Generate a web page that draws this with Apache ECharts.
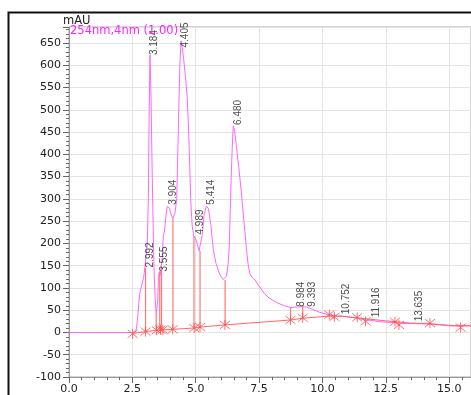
<!DOCTYPE html>
<html>
<head>
<meta charset="utf-8">
<script src="https://cdn.jsdelivr.net/npm/echarts@6.0.0/dist/echarts.min.js"></script>
<style>
html,body{margin:0;padding:0;background:#fff;}
#chart{width:471px;height:395px;}
</style>
</head>
<body>
<div id="chart"></div>
<script>
// Chromatogram trace (retention time, mAU)
const times = [0,2.5,2.6,2.66,2.72,2.78,2.84,2.9,2.95,2.99,3.05,3.09,3.13,3.16,3.195,3.23,3.27,3.3,3.35,3.4,3.44,3.47,3.5,3.53,3.56,3.59,3.63,3.68,3.72,3.77,3.82,3.87,3.91,3.96,4.03,4.1,4.18,4.25,4.3,4.34,4.38,4.42,4.47,4.54,4.6,4.67,4.74,4.8,4.86,4.92,4.99,5.06,5.13,5.19,5.26,5.33,5.42,5.5,5.6,5.69,5.8,5.95,6.08,6.15,6.21,6.27,6.32,6.36,6.4,6.44,6.48,6.53,6.6,6.7,6.8,6.9,7.0,7.07,7.14,7.25,7.34,7.45,7.53,7.7,7.9,8.2,8.5,8.74,8.98,9.2,9.39,9.6,9.9,10.27,10.6,10.75,11.0,11.37,11.7,11.92,12.3,12.86,13.3,13.64,14.2,14.6,15.0,15.45,15.86];
const signal = [0,0,1,8,40,85,99,102,125,145,148,200,300,480,623,550,400,300,150,75,42,40,70,125,137,128,142,170,215,228,258,283,287,280,264,256,268,300,420,523,610,655,640,605,570,523,420,300,240,217,212,198,183,184,220,265,284,278,240,187,155,130,119,118,126,150,190,270,350,415,464,455,420,370,315,250,188,152,131,122,118,108,102,88,77,67,60,56,57,58,57,52,45,39,37,37,35,32,28,27,24,22,20,20,19,17,15,14,15];

// Integration baseline
const baseTimes = [2.51,3.02,3.46,4.09,4.94,5.17,6.15,8.74,9.22,10.3,10.8,11.5,12.5,13.5,14.24,15.0,15.86];
const baseValues = [-2,2,5,7,10,12,17,28,32,37,36,32,26,21,20,16,15];

// Peak start/end markers
const markerTimes = [2.51,3.02,3.46,3.61,3.7,4.09,4.94,5.17,6.15,8.74,9.22,10.27,10.47,11.37,11.7,12.86,13.02,14.24,15.45];
const markerValues = [-3,2,5,6,6,7,10,12,17,28,33,40,35,34,25,24,17,21,11];

// Drop lines (time, baseline, signal)
const dropTimes = [3.02,3.44,3.58,3.65,4.1,4.93,5.17,6.16,8.74,9.22];
const dropBases = [2,5,6,6,7,10,12,17,28,32];
const dropTops = [145,42,133,145,256,217,183,118,56,58];

// Peak retention time labels
const peakTimes = [2.992,3.184,3.555,3.904,4.405,4.989,5.414,6.480,8.984,9.393,10.752,11.916,13.635];
const peakHeights = [146,623,137,287,640,220,287,466,58,58,41,34,25];

const xTicks = {min:0, max:15.86, interval:2.5};
const yTicks = {min:-100, max:686, interval:50};

const chart = echarts.init(document.getElementById('chart'), null, {renderer:'canvas'});
const axisFont = {fontFamily:'DejaVu Sans', fontSize:11, color:'#222'};
const dropColor = '#ff7777';

chart.setOption({
  animation:false,
  backgroundColor:'#fff',
  grid:{left:69, top:27, right:0, bottom:16, show:true, borderColor:'#aaa', borderWidth:1},
  graphic:[
    {type:'rect', left:6, top:10, shape:{width:520, height:420}, style:{fill:'none', stroke:'#111', lineWidth:2}, z:100},
    {type:'text', left:63, top:15, style:{text:'mAU', font:'11.5px "DejaVu Sans"', fill:'#222'}, z:100},
    {type:'text', left:70, top:25, style:{text:'254nm,4nm (1.00)', font:'11.5px "DejaVu Sans"', fill:'#ff22ff'}, z:100}
  ],
  xAxis:{
    type:'value', min:xTicks.min, max:xTicks.max, interval:xTicks.interval,
    axisLine:{show:true, onZero:false, lineStyle:{color:'#999'}},
    axisTick:{show:true, length:6, lineStyle:{color:'#666'}},
    minorTick:{show:true, splitNumber:5, length:3, lineStyle:{color:'#666'}},
    splitLine:{show:true, lineStyle:{color:'#e4e4e4'}},
    axisLabel:Object.assign({margin:7, showMaxLabel:false, formatter:v=>v.toFixed(1)}, axisFont)
  },
  yAxis:{
    type:'value', min:yTicks.min, max:yTicks.max, interval:yTicks.interval,
    axisLine:{show:true, onZero:false, lineStyle:{color:'#999'}},
    axisTick:{show:true, length:6, lineStyle:{color:'#666'}},
    minorTick:{show:true, splitNumber:5, length:3, lineStyle:{color:'#666'}},
    splitLine:{show:true, lineStyle:{color:'#e4e4e4'}},
    axisLabel:Object.assign({margin:8, showMaxLabel:false}, axisFont)
  },
  series:[
    {
      type:'line', name:'254nm,4nm (1.00)', showSymbol:false, symbol:'none',
      data:times.map((t,i)=>[t, signal[i]]),
      lineStyle:{color:'#ff66ff', width:1}, z:3
    },
    {
      type:'line', showSymbol:false, symbol:'none',
      data:baseTimes.map((t,i)=>[t, baseValues[i]]),
      lineStyle:{color:'#ff6666', width:1}, z:4
    },
    {
      type:'custom', z:4,
      itemStyle:{color:dropColor},
      data:dropTimes.map((t,i)=>[t, dropBases[i], dropTops[i]]),
      encode:{x:0, y:[1,2]},
      renderItem:function(params, api){
        const p1 = api.coord([api.value(0), api.value(1)]);
        const p2 = api.coord([api.value(0), api.value(2)]);
        return {type:'line', shape:{x1:p1[0], y1:p1[1], x2:p2[0], y2:p2[1]}, style:{stroke:dropColor, fill:null, lineWidth:1.2}};
      }
    },
    {
      type:'scatter', z:5,
      symbol:'path://M1,1L9,9M9,1L1,9M5,0L5,10', symbolSize:10,
      data:markerTimes.map((t,i)=>[t, markerValues[i]]),
      itemStyle:{color:'rgba(0,0,0,0)', borderColor:'#ff4d4d', borderWidth:1}
    },
    {
      type:'scatter', z:6, symbolSize:1,
      data:peakTimes.map((t,i)=>[t, peakHeights[i]]),
      itemStyle:{color:'rgba(0,0,0,0)'},
      label:{
        show:true, position:'inside', rotate:90, align:'left', verticalAlign:'middle',
        offset:[0,5], fontFamily:'Liberation Sans', fontSize:10, color:'#222',
        formatter:p=>p.value[0].toFixed(3)
      }
    }
  ]
});
</script>
</body>
</html>
